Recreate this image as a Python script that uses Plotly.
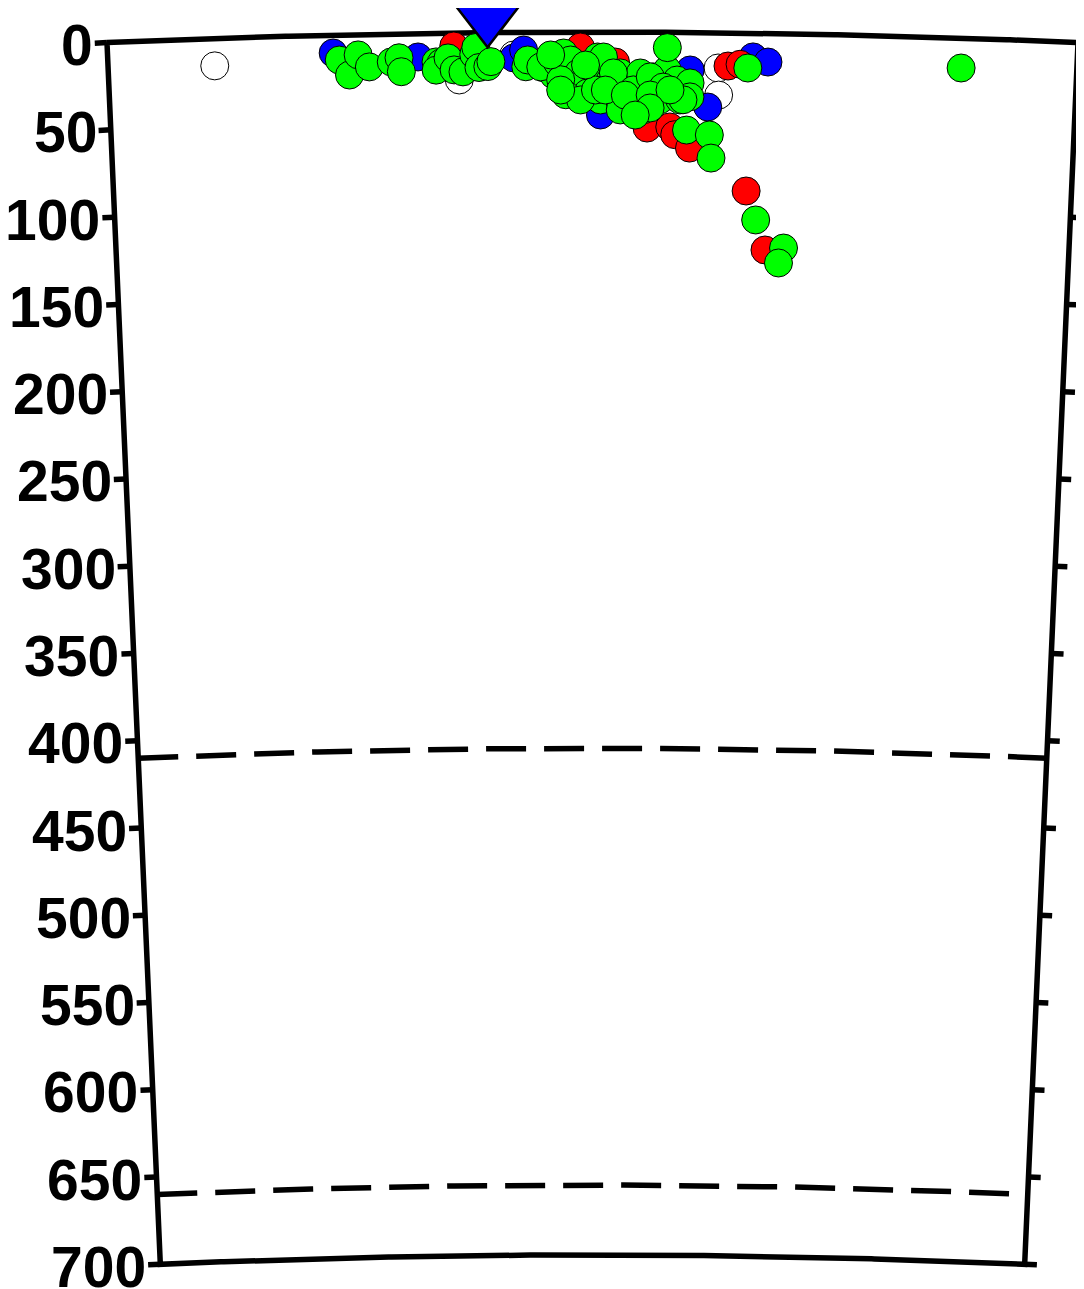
import numpy as np
import plotly.graph_objects as go

# ---------------- data (distance along profile [km], depth [km]) ----------------
R_EARTH = 6371.0
PROFILE_LEN = 556.0
MAX_DEPTH = 700.0
DEPTH_TICKS = list(range(0, 701, 50))
TICK_LABELS = [str(d) for d in DEPTH_TICKS]
DISCONTINUITIES = [410.0, 660.0]

station_dist = [218.0]
station_depth = [-7.0]

white_dist = [61.2, 201.4, 232.8, 350.1, 350.6]
white_depth = [15.7, 27.0, 13.0, 20.2, 35.7]

blue_dist = [129.3, 177.9, 232.8, 238.5, 290.0, 282.6, 334.1, 344.4, 370.1, 378.7]
blue_depth = [10.3, 13.5, 14.7, 10.2, 17.2, 47.5, 21.5, 42.6, 13.6, 16.4]

red_dist = [198.5, 271.1, 291.2, 309.5, 322.6, 325.5, 334.1, 355.8, 362.7, 367.2, 378.7]
red_depth = [7.5, 8.6, 17.2, 54.9, 54.2, 58.6, 66.2, 19.0, 17.9, 90.4, 124.0]

green_dist = [132.7, 138.4, 143.6, 149.9, 162.5, 167.0, 168.2, 188.2, 191.1, 188.2,
              195.1, 198.5, 203.6, 209.9, 211.1, 212.8, 217.9, 219.7, 239.7, 250.0,
              255.7, 240.8, 248.3, 261.4, 258.0, 265.4, 280.9, 270.0, 278.0, 267.1,
              275.1, 282.6, 288.3, 294.0, 294.0, 300.9, 305.5, 306.6, 312.9, 316.9,
              320.9, 326.6, 328.3, 334.1, 334.1, 320.9, 332.3, 345.5, 346.6, 284.3,
              290.0, 294.0, 307.2, 301.5, 311.2, 318.6, 330.1, 367.2, 373.0, 389.5,
              386.7, 489.6, 259.7, 262.6, 271.1, 279.7, 254.0, 274.0, 259.7, 285.4,
              296.9, 311.2, 322.6, 311.2, 302.6]
green_depth = [14.4, 23.1, 11.7, 18.7, 16.1, 13.8, 21.8, 16.5, 17.1, 21.2,
               14.3, 21.2, 22.4, 12.5, 8.5, 20.0, 19.5, 16.7, 19.8, 20.4,
               24.5, 15.9, 19.9, 12.0, 17.7, 16.0, 14.3, 23.5, 26.3, 31.5,
               34.9, 38.9, 27.5, 40.6, 23.4, 29.1, 23.4, 37.1, 25.6, 38.7,
               21.6, 27.3, 38.7, 28.9, 36.9, 8.8, 55.9, 58.6, 71.8, 14.3,
               23.4, 44.6, 44.5, 33.1, 25.6, 31.4, 38.6, 20.0, 106.9, 122.7,
               131.3, 17.1, 27.3, 35.9, 38.9, 33.2, 13.1, 18.9, 33.2, 33.2,
               36.1, 36.0, 33.0, 43.4, 47.5]

# ---------------- projection (curved-Earth cross-section) ----------------
KM_PER_DEG = R_EARTH * np.pi / 180.0


def proj(dist, depth):
    dist = np.asarray(dist, dtype=float)
    depth = np.asarray(depth, dtype=float)
    phi = np.radians((dist - PROFILE_LEN / 2.0) / KM_PER_DEG)
    r = R_EARTH - depth
    return r * np.sin(phi), r * np.cos(phi)


# page body has an 8px margin, so the figure is offset by 8px
W, H = 1076, 1281
PX_PER_KM = 1.747
CX = 584.5
TOP_Y = 24.0

fig = go.Figure()

# frame
arc = np.linspace(0, PROFILE_LEN, 300)
fd = np.concatenate([arc, [PROFILE_LEN], arc[::-1], [0.0]])
fz = np.concatenate([np.zeros_like(arc), [MAX_DEPTH], np.full_like(arc, MAX_DEPTH), [0.0]])
fx, fy = proj(fd, fz)
fig.add_trace(go.Scatter(x=fx, y=fy, mode="lines", line=dict(color="black", width=5.5),
                         hoverinfo="skip", showlegend=False))

# discontinuities (dashed)
for dd in DISCONTINUITIES:
    lx, ly = proj(arc, np.full_like(arc, dd))
    fig.add_trace(go.Scatter(x=lx, y=ly, mode="lines",
                             line=dict(color="black", width=5.5, dash="40px,18px"),
                             hoverinfo="skip", showlegend=False))

# ticks
TICK_KM = 7.0
tx, ty = [], []
for d in DEPTH_TICKS:
    dl = TICK_KM * R_EARTH / (R_EARTH - d)
    for a, b in ((0.0, -dl), (PROFILE_LEN, PROFILE_LEN + dl)):
        px_, py_ = proj([a, b], [d, d])
        tx += list(px_) + [None]
        ty += list(py_) + [None]
fig.add_trace(go.Scatter(x=tx, y=ty, mode="lines", line=dict(color="black", width=5.5),
                         hoverinfo="skip", showlegend=False))

# tick labels
for d, lab in zip(DEPTH_TICKS, TICK_LABELS):
    dl = TICK_KM * R_EARTH / (R_EARTH - d)
    ax_, ay_ = proj([-dl], [d])
    fig.add_annotation(x=float(ax_[0]), y=float(ay_[0]), text=lab, showarrow=False,
                       xanchor="right", yanchor="middle", xshift=-1, yshift=-2,
                       borderpad=0,
                       font=dict(family="Liberation Sans", size=57, color="black", weight="bold"))

# events
for dist, depth, col in ((white_dist, white_depth, "#FFFFFF"),
                         (blue_dist, blue_depth, "#0000FF"),
                         (red_dist, red_depth, "#FF0000"),
                         (green_dist, green_depth, "#00FF00")):
    ex, ey = proj(dist, depth)
    fig.add_trace(go.Scatter(x=ex, y=ey, mode="markers",
                             marker=dict(size=28, color=col, line=dict(color="black", width=1)),
                             showlegend=False))

# station
sx, sy = proj(station_dist, station_depth)
fig.add_trace(go.Scatter(x=sx, y=sy, mode="markers",
                         marker=dict(symbol="triangle-down", size=54, color="#0000FF",
                                     line=dict(color="black", width=2.5)),
                         showlegend=False, cliponaxis=False))

x_range = [(0 - CX) / PX_PER_KM, (W - CX) / PX_PER_KM]
y_range = [R_EARTH - (H - TOP_Y) / PX_PER_KM, R_EARTH + TOP_Y / PX_PER_KM]

fig.update_layout(
    width=W, height=H, autosize=False,
    margin=dict(l=0, r=0, t=0, b=0),
    paper_bgcolor="white", plot_bgcolor="white",
    xaxis=dict(range=x_range, visible=False, fixedrange=True),
    yaxis=dict(range=y_range, visible=False, fixedrange=True),
    showlegend=False,
)

fig.write_html("out.html")
